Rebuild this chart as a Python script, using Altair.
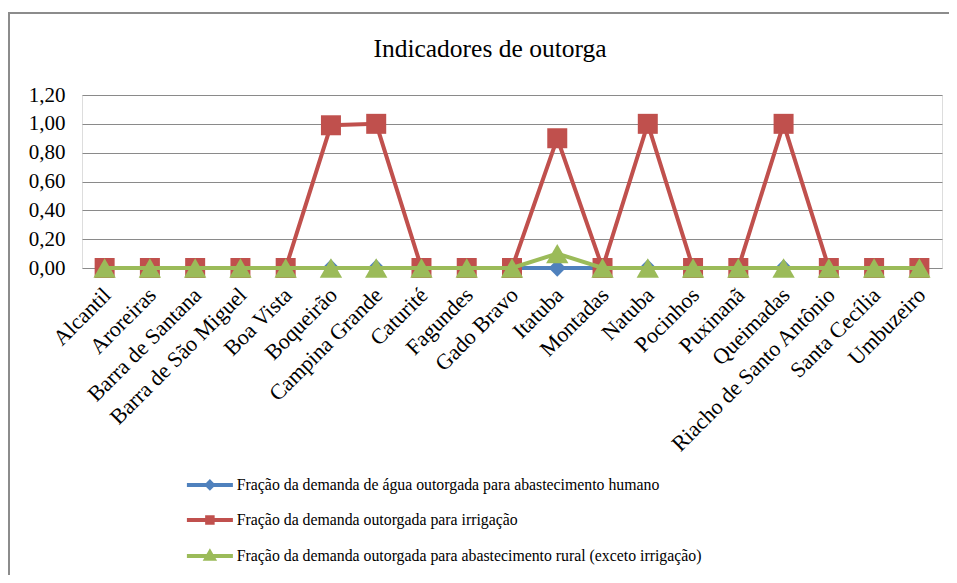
import altair as alt
import pandas as pd

categories = ["Alcantil", "Aroreiras", "Barra de Santana", "Barra de São Miguel", "Boa Vista",
              "Boqueirão", "Campina Grande", "Caturité", "Fagundes", "Gado Bravo", "Itatuba",
              "Montadas", "Natuba", "Pocinhos", "Puxinanã", "Queimadas",
              "Riacho de Santo Antônio", "Santa Cecília", "Umbuzeiro"]

series_names = ["Fração da demanda de água outorgada para abastecimento humano",
                "Fração da demanda outorgada para irrigação",
                "Fração da demanda outorgada para abastecimento rural (exceto irrigação)"]

human = [0.00, 0.00, 0.00, 0.00, 0.00, 0.00, 0.00, 0.00, 0.00, 0.00,
         0.00, 0.00, 0.00, 0.00, 0.00, 0.00, 0.00, 0.00, 0.00]
irrigation = [0.00, 0.00, 0.00, 0.00, 0.00, 0.99, 1.00, 0.00, 0.00, 0.00,
              0.90, 0.00, 1.00, 0.00, 0.00, 1.00, 0.00, 0.00, 0.00]
rural = [0.00, 0.00, 0.00, 0.00, 0.00, 0.00, 0.00, 0.00, 0.00, 0.00,
         0.10, 0.00, 0.00, 0.00, 0.00, 0.00, 0.00, 0.00, 0.00]

colors = ["#4F81BD", "#C0504D", "#9BBB59"]
shapes = ["diamond", "square", "triangle-up"]
sizes = [300, 400, 500]

rows = []
for name, vals in zip(series_names, [human, irrigation, rural]):
    for c, v in zip(categories, vals):
        rows.append({"serie": name, "municipio": c, "valor": v})
df = pd.DataFrame(rows)

FONT = "Liberation Serif"

line_path = "M-4.6,0L4.6,0"
leg_paths = [
    line_path + "M0,-0.6L0.6,0L0,0.6L-0.6,0Z",
    line_path + "M-0.55,-0.55L0.55,-0.55L0.55,0.55L-0.55,0.55Z",
    line_path + "M0,-0.75L0.75,0.55L-0.75,0.55Z",
]
shape_expr = ("datum.value === '%s' ? '%s' : datum.value === '%s' ? '%s' : '%s'"
              % (series_names[0], leg_paths[0], series_names[1], leg_paths[1], leg_paths[2]))
fill_expr = ("datum.value === '%s' ? '%s' : datum.value === '%s' ? '%s' : '%s'"
             % (series_names[0], colors[0], series_names[1], colors[1], colors[2]))

legend = alt.Legend(
    title=None, orient="none", legendX=120, legendY=382, direction="vertical",
    labelFont=FONT, labelFontSize=15.8, labelColor="black", labelLimit=800,
    symbolSize=100, symbolStrokeWidth=4, labelOffset=19, rowPadding=13, padding=0,
    symbolType={"expr": shape_expr},
    symbolFillColor={"expr": fill_expr},
    symbolStrokeColor={"expr": fill_expr},
    symbolOpacity=1,
)

color = alt.Color("serie:N", scale=alt.Scale(domain=series_names, range=colors), legend=legend)
x = alt.X("municipio:N", sort=categories, scale=alt.Scale(padding=0.5), title=None,
          axis=alt.Axis(labelAngle=-45, labelFont=FONT, labelFontSize=22, labelColor="black",
                        labelOverlap=False, labelLimit=400, ticks=False, domain=False,
                        labelPadding=16, labelOffset=-5, grid=False))
y = alt.Y("valor:Q", scale=alt.Scale(domain=[0, 1.2], nice=False, zero=True), title=None,
          axis=alt.Axis(values=[0, 0.2, 0.4, 0.6, 0.8, 1.0, 1.2],
                        labelExpr="replace(format(datum.value, '.2f'), '.', ',')",
                        labelFont=FONT, labelFontSize=21, labelColor="black",
                        ticks=False, domain=False, labelPadding=17,
                        grid=True, gridColor="#8a8a8a", gridWidth=1))

frame_top = alt.Chart(alt.Data(values=[{}])).mark_rule(stroke="#8c8c8c", strokeWidth=2).encode(
    x=alt.value(-73), x2=alt.value(880), y=alt.value(-82))
frame_left = alt.Chart(alt.Data(values=[{}])).mark_rule(stroke="#8c8c8c", strokeWidth=2).encode(
    x=alt.value(-73), y=alt.value(-83), y2=alt.value(700))

layers = [frame_top, frame_left]
for i, name in enumerate(series_names):
    base = alt.Chart(df).transform_filter(alt.datum.serie == name)
    layers.append(base.mark_line(strokeWidth=4).encode(x=x, y=y, color=color))
    layers.append(base.mark_point(filled=True, shape=shapes[i], size=sizes[i], opacity=1)
                  .encode(x=x, y=y, color=color))

chart = alt.layer(*layers).properties(
    width=860, height=173,
    title=alt.TitleParams(text="Indicadores de outorga", font=FONT, fontSize=25.5,
                          fontWeight="normal", color="black", anchor="middle", dx=-22,
                          frame="group", offset=0, baseline="alphabetic", dy=71),
    padding={"left": 74, "top": 87, "right": 7, "bottom": 307},
    autosize=alt.AutoSizeParams(type="none"),
).configure_view(stroke=None).configure(background="white")

chart.save("out.html", embed_options={"renderer": "svg", "actions": False})
